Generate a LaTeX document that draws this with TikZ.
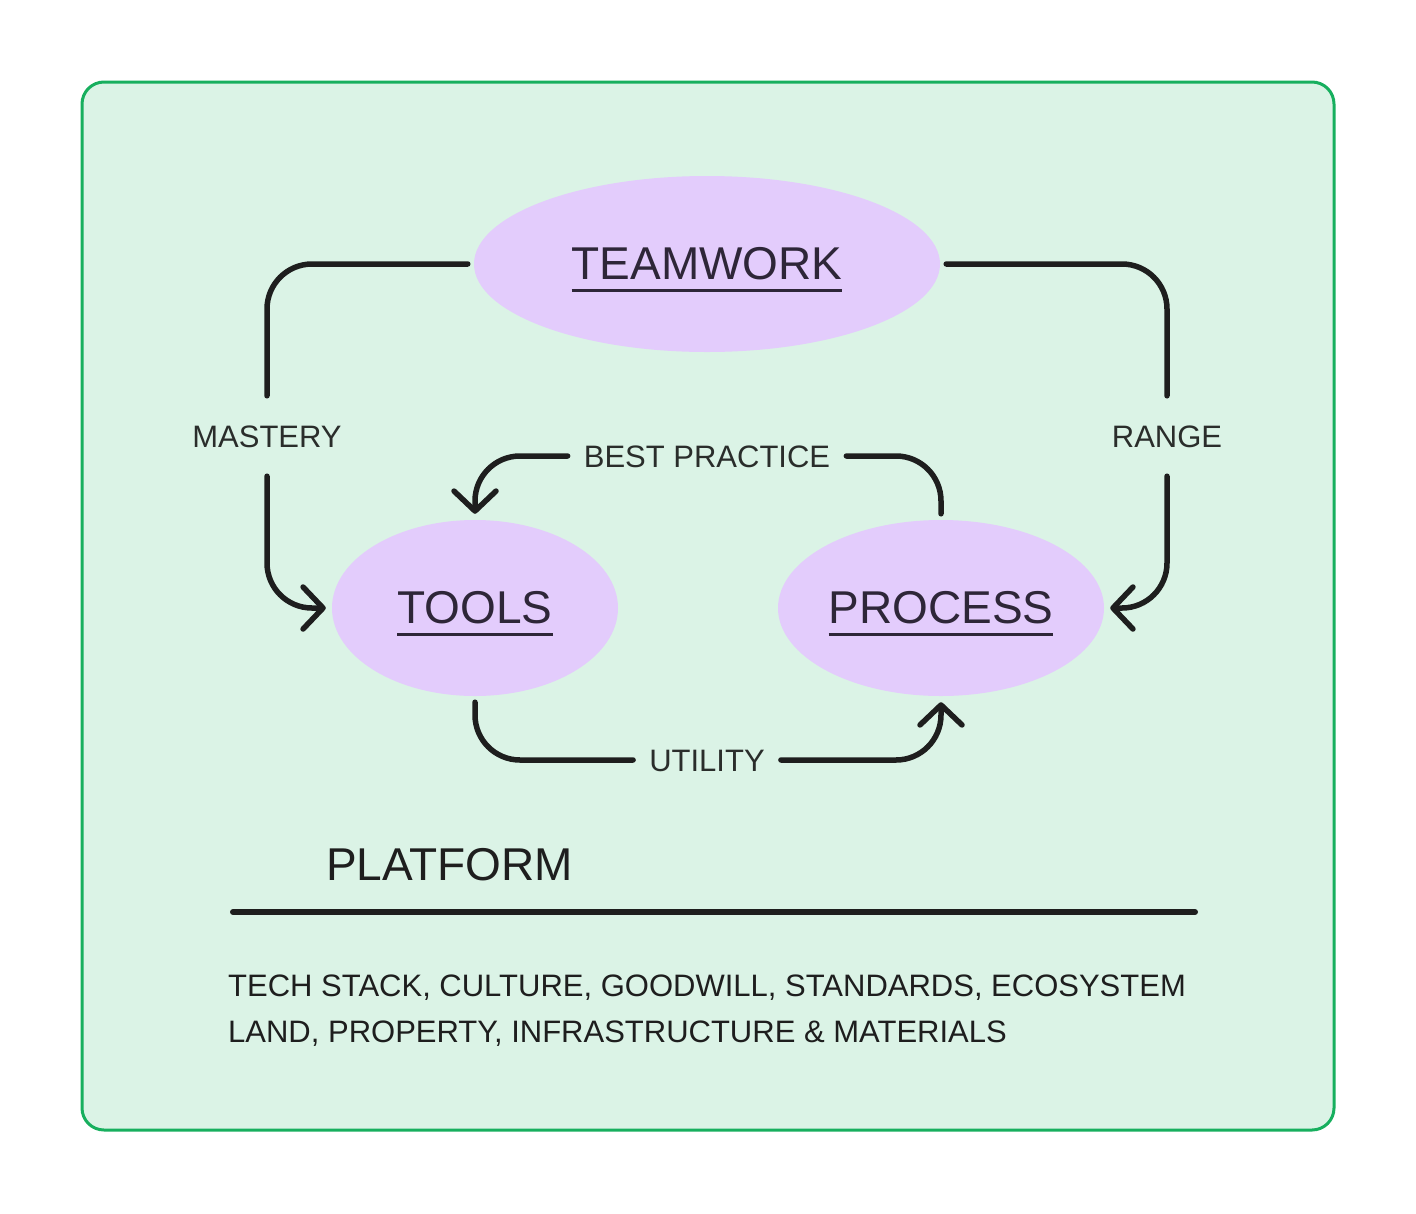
\documentclass[tikz,border=0pt]{standalone}
\usepackage{fontspec}
\setmainfont{Liberation Sans}
\usetikzlibrary{arrows.meta,shapes.geometric}
\definecolor{bgc}{HTML}{DBF3E6}
\definecolor{brd}{HTML}{17AF5E}
\definecolor{elf}{HTML}{E3CCFC}
\definecolor{ink}{HTML}{1E1E1E}
\definecolor{etxt}{HTML}{2E2638}
\definecolor{ltxt}{HTML}{2A2D2B}
\newcommand\ulword[1]{\setbox0\hbox{#1}\rlap{\smash{\rule[-12.5pt]{\wd0}{3pt}}}\box0}
\begin{document}
\begin{tikzpicture}[x=1pt,y=-1pt,
 bubble/.style={ellipse, fill=elf, inner sep=0pt, text=etxt, font=\fontsize{46}{52}\selectfont},
 lbl/.style={text=ltxt, font=\fontsize{31}{36}\selectfont, inner xsep=16pt, inner ysep=29pt, text height=22pt, text depth=0pt},
 conn/.style={draw=ink, line width=5.5pt, line cap=round, line join=round, rounded corners=45pt},
 tipd/.style={-{Straight Barb[length=20pt,width=42pt,round]}},
 plain/.style={text=ink, inner sep=0pt}]
\useasboundingbox (0,0) rectangle (1416,1213);
\draw[draw=brd, fill=bgc, line width=3pt, rounded corners=22pt] (82,82) rectangle (1334,1130);

\node[bubble, minimum width=466pt, minimum height=176pt] (tw) at (707,264) {\ulword{TEAMWORK}};
\node[bubble, minimum width=286pt, minimum height=176pt] (tools) at (475,608) {\ulword{TOOLS}};
\node[bubble, minimum width=326pt, minimum height=176pt] (proc) at (941,608) {\ulword{PROCESS}};

\node[lbl] (mastery) at (267,436) {MASTERY};
\node[lbl] (range) at (1167,436) {RANGE};
\node[lbl] (best) at (707,456) {BEST PRACTICE};
\node[lbl] (util) at (707,760) {UTILITY};

\draw[conn] ([xshift=-6pt]tw.west) -| (mastery.north);
\draw[conn, tipd] (mastery.south) |- ([xshift=-6pt]tools.west);
\draw[conn] ([xshift=6pt]tw.east) -| (range.north);
\draw[conn, tipd] (range.south) |- ([xshift=6pt]proc.east);
\draw[conn] ([yshift=6pt]proc.north) |- (best.east);
\draw[conn, tipd] (best.west) -| ([yshift=6pt]tools.north);
\draw[conn] ([yshift=-6pt]tools.south) |- (util.west);
\draw[conn, tipd] (util.east) -| ([yshift=-6pt]proc.south);

\node[plain, anchor=base west, font=\fontsize{46}{52}\selectfont] (platform) at (326,880) {PLATFORM};
\coordinate (pl1) at (233,912);
\coordinate (pl2) at (1195,912);
\draw[draw=ink, line width=6pt, line cap=round] (pl1) -- (pl2);
\node[plain, anchor=base west, font=\fontsize{31}{36}\selectfont] (line1) at (228,996) {TECH STACK, CULTURE, GOODWILL, STANDARDS, ECOSYSTEM};
\node[plain, anchor=base west, font=\fontsize{31}{36}\selectfont] (line2) at (228,1042) {LAND, PROPERTY, INFRASTRUCTURE \& MATERIALS};
\end{tikzpicture}
\end{document}
